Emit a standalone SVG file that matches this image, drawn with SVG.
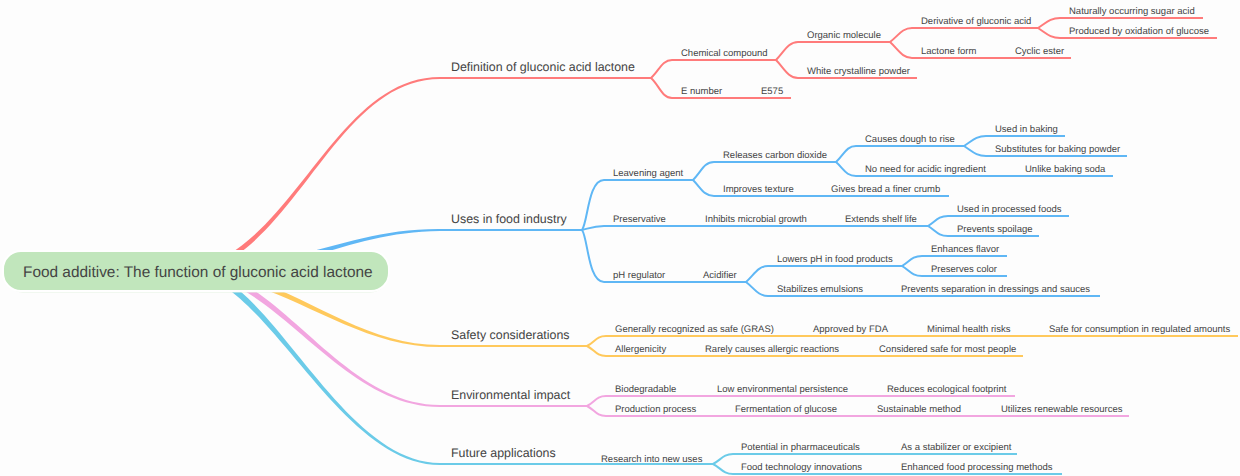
<svg xmlns="http://www.w3.org/2000/svg" width="1240" height="476" viewBox="0 0 1240 476">
<style>
text{font-family:"Liberation Sans",Arial,sans-serif;fill:#444;text-rendering:geometricPrecision}
.l{font-size:9.5px}
.b{font-size:12.4px}
.r{font-size:15.4px}
.c{fill:none;stroke-width:2;stroke-linecap:butt}
.red{stroke:#ff7b7b}.blue{stroke:#5fb7f5}.yel{stroke:#ffc95c}.pink{stroke:#f2a6e0}.cyan{stroke:#6bcbe8}
</style>
<rect width="1240" height="476" fill="#fdfdfd"/>
<g id="connectors">
<path fill="#ff7b7b" d="M193.500,268.500C294,248.500 334.500,77 440,77L440,79C335.500,79 296,251.500 196.500,273.500Z"/>
<path fill="#5fb7f5" d="M195,268C300,268 350,228.500 440,229L440,231C350,231.500 300,274 195,274Z"/>
<path fill="#ffc95c" d="M197,268C286.500,273 351,345 440,345L440,347C349,347 283.500,277 193,274Z"/>
<path fill="#f2a6e0" d="M197,268C279.500,273 341,405 440,405L440,407C339,407 276.500,277 193,274Z"/>
<path fill="#6bcbe8" d="M197,268C271.500,278 341,463 440,463L440,465C339,465 268.500,282 193,274Z"/>
<g class="c red">
<path d="M440,78H651C659,71 662,60 672,60H776C784,52 788,42 798,42H890C898,36 902,28 912,28H1038C1046,23 1050,18 1060,18H1203"/>
<path d="M651,78C659,85 662,98 672,98H791"/>
<path d="M776,60C784,68 788,78 798,78H917"/>
<path d="M890,42C898,49 902,58 912,58H1071"/>
<path d="M1038,28C1046,33 1050,38 1060,38H1217"/>
</g>
<g class="c blue">
<path d="M440,230H582C588,222 588,180 604,180H693C701,172 704,162 714,162H836C844,155 846,146 856,146H964C972,141 976,136 986,136H1065"/>
<path d="M582,230C590,228 594,226 604,226H928C936,221 938,216 948,216H1069"/>
<path d="M928,226C936,231 938,236 948,236H1039"/>
<path d="M582,230C588,238 588,282 604,282H746C754,275 758,266 768,266H902C910,261 912,256 922,256H1007"/>
<path d="M902,266C910,271 912,276 922,276H1007"/>
<path d="M746,282C754,288 758,296 768,296H1100"/>
<path d="M693,180C701,188 704,196 714,196H949"/>
<path d="M836,162C844,169 846,176 856,176H1113"/>
<path d="M964,146C972,151 976,156 986,156H1127"/>
</g>
<g class="c yel">
<path d="M440,346H587C595,342 596,336 606,336H1238"/>
<path d="M587,346C595,350 596,356 606,356H1023"/>
</g>
<g class="c pink">
<path d="M440,406H587C595,402 596,396 606,396H1015"/>
<path d="M587,406C595,410 596,416 606,416H1129"/>
</g>
<g class="c cyan">
<path d="M440,464H713C721,460 723,454 733,454H1017"/>
<path d="M713,464C721,468 723,474 733,474H1062"/>
</g>
</g>
<g id="root"><rect x="4" y="252" width="385" height="40" rx="19" fill="#fff" stroke="#e6f3e3" stroke-width="1"/><rect x="3" y="251" width="386" height="40" rx="18" fill="#c1e6bc" stroke="#fff" stroke-width="2"/><text class="r" x="23" y="277">Food additive: The function of gluconic acid lactone</text></g>
<g id="n1"><text class="b" x="451" y="71">Definition of gluconic acid lactone</text></g>
<g id="n2"><text class="l" x="681" y="56">Chemical compound</text></g>
<g id="n3"><text class="l" x="807" y="38">Organic molecule</text></g>
<g id="n4"><text class="l" x="921" y="24">Derivative of gluconic acid</text></g>
<g id="n5"><text class="l" x="1069" y="14">Naturally occurring sugar acid</text></g>
<g id="n6"><text class="l" x="1069" y="34">Produced by oxidation of glucose</text></g>
<g id="n7"><text class="l" x="921" y="54">Lactone form</text></g>
<g id="n8"><text class="l" x="1015" y="54">Cyclic ester</text></g>
<g id="n9"><text class="l" x="807" y="74">White crystalline powder</text></g>
<g id="n10"><text class="l" x="681" y="94">E number</text></g>
<g id="n11"><text class="l" x="761" y="94">E575</text></g>
<g id="n12"><text class="b" x="451" y="223">Uses in food industry</text></g>
<g id="n13"><text class="l" x="613" y="176">Leavening agent</text></g>
<g id="n14"><text class="l" x="723" y="158">Releases carbon dioxide</text></g>
<g id="n15"><text class="l" x="865" y="142">Causes dough to rise</text></g>
<g id="n16"><text class="l" x="995" y="132">Used in baking</text></g>
<g id="n17"><text class="l" x="995" y="152">Substitutes for baking powder</text></g>
<g id="n18"><text class="l" x="865" y="172">No need for acidic ingredient</text></g>
<g id="n19"><text class="l" x="1025" y="172">Unlike baking soda</text></g>
<g id="n20"><text class="l" x="723" y="192">Improves texture</text></g>
<g id="n21"><text class="l" x="831" y="192">Gives bread a finer crumb</text></g>
<g id="n22"><text class="l" x="613" y="222">Preservative</text></g>
<g id="n23"><text class="l" x="705" y="222">Inhibits microbial growth</text></g>
<g id="n24"><text class="l" x="845" y="222">Extends shelf life</text></g>
<g id="n25"><text class="l" x="957" y="212">Used in processed foods</text></g>
<g id="n26"><text class="l" x="957" y="232">Prevents spoilage</text></g>
<g id="n27"><text class="l" x="613" y="278">pH regulator</text></g>
<g id="n28"><text class="l" x="703" y="278">Acidifier</text></g>
<g id="n29"><text class="l" x="777" y="262">Lowers pH in food products</text></g>
<g id="n30"><text class="l" x="931" y="252">Enhances flavor</text></g>
<g id="n31"><text class="l" x="931" y="272">Preserves color</text></g>
<g id="n32"><text class="l" x="777" y="292">Stabilizes emulsions</text></g>
<g id="n33"><text class="l" x="901" y="292">Prevents separation in dressings and sauces</text></g>
<g id="n34"><text class="b" x="451" y="339">Safety considerations</text></g>
<g id="n35"><text class="l" x="615" y="332">Generally recognized as safe (GRAS)</text></g>
<g id="n36"><text class="l" x="813" y="332">Approved by FDA</text></g>
<g id="n37"><text class="l" x="927" y="332">Minimal health risks</text></g>
<g id="n38"><text class="l" x="1049" y="332">Safe for consumption in regulated amounts</text></g>
<g id="n39"><text class="l" x="615" y="352">Allergenicity</text></g>
<g id="n40"><text class="l" x="705" y="352">Rarely causes allergic reactions</text></g>
<g id="n41"><text class="l" x="879" y="352">Considered safe for most people</text></g>
<g id="n42"><text class="b" x="451" y="399">Environmental impact</text></g>
<g id="n43"><text class="l" x="615" y="392">Biodegradable</text></g>
<g id="n44"><text class="l" x="717" y="392">Low environmental persistence</text></g>
<g id="n45"><text class="l" x="887" y="392">Reduces ecological footprint</text></g>
<g id="n46"><text class="l" x="615" y="412">Production process</text></g>
<g id="n47"><text class="l" x="735" y="412">Fermentation of glucose</text></g>
<g id="n48"><text class="l" x="877" y="412">Sustainable method</text></g>
<g id="n49"><text class="l" x="1001" y="412">Utilizes renewable resources</text></g>
<g id="n50"><text class="b" x="451" y="457">Future applications</text></g>
<g id="n51"><text class="l" x="601" y="462">Research into new uses</text></g>
<g id="n52"><text class="l" x="741" y="450">Potential in pharmaceuticals</text></g>
<g id="n53"><text class="l" x="901" y="450">As a stabilizer or excipient</text></g>
<g id="n54"><text class="l" x="741" y="470">Food technology innovations</text></g>
<g id="n55"><text class="l" x="901" y="470">Enhanced food processing methods</text></g>
</svg>
